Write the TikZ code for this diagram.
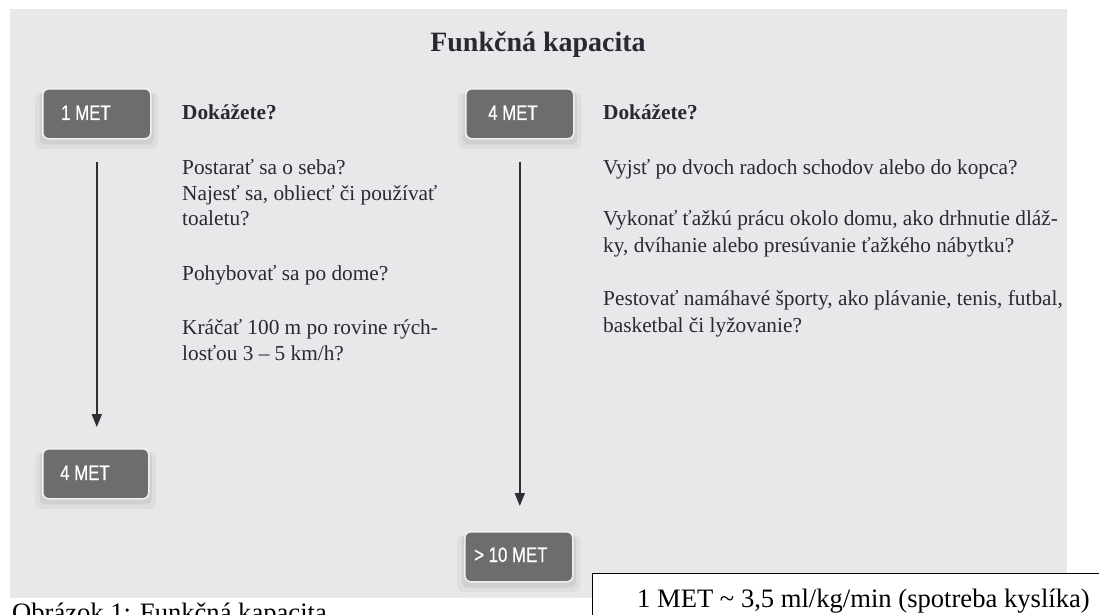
\documentclass[tikz,border=0pt]{standalone}
\usepackage{fontspec}
\setmainfont{Liberation Serif}
\newfontfamily\condsans[FakeStretch=0.8,FakeBold=0.6]{Liberation Sans}
\usetikzlibrary{arrows.meta,shadows}
\definecolor{panel}{HTML}{E8E8EA}
\definecolor{boxgray}{HTML}{6D6D6D}
\definecolor{inkdark}{HTML}{2E2E33}
\definecolor{textcol}{HTML}{2A2833}
\begin{document}
\begin{tikzpicture}[x=1pt,y=-1pt,
  metbox/.style={rounded corners=6pt, fill=boxgray, draw=white!94!black, line width=1.6pt,
    minimum width=108pt, minimum height=50pt, inner sep=0pt, anchor=north west,
    general shadow={fill=black, opacity=0.04, shadow scale=1.14, shadow yshift=-6pt},
    general shadow={fill=black, opacity=0.06, shadow scale=1.06, shadow yshift=-4pt}},
  metlabel/.style={anchor=base west, inner sep=0pt, text=white, font=\condsans\fontsize{21}{21}\selectfont},
  body/.style={anchor=base west, inner sep=0pt, text=textcol, font=\fontsize{21.3}{26}\selectfont},
  bodybold/.style={body, font=\bfseries\fontsize{21.3}{26}\selectfont},
  flow/.style={draw=inkdark, line width=1.8pt, -{Triangle[length=13pt,width=10pt]}},
  plain/.style={anchor=base west, inner sep=0pt, text=black, font=\fontsize{26.6}{30}\selectfont},
]
\useasboundingbox (0,0) rectangle (1099,615);
\fill[white] (0,0) rectangle (1099,615);
\fill[panel] (10,9) rectangle (1067,598);

% title
\node[anchor=base, inner sep=0pt, text=textcol, font=\bfseries\fontsize{28}{30}\selectfont] (title) at (538,52) {Funkčná kapacita};

% MET boxes
\node[metbox] (m1) at (42,88) {};
\node[metlabel] (m1t) at (61,120) {1 MET};
\node[metbox] (m4a) at (465,88) {};
\node[metlabel] (m4at) at (488,120) {4 MET};
\node[metbox, minimum width=106pt] (m4b) at (42,448) {};
\node[metlabel] (m4bt) at (60,480) {4 MET};
\node[metbox] (m10) at (464,531) {};
\node[metlabel] (m10t) at (474,562) {> 10 MET};

% arrows
\draw[flow, shorten <=22pt, shorten >=21pt] (m1.south) -- (m1.south |- m4b.north);
\draw[flow, shorten <=22pt, shorten >=25pt] (m4a.south) -- (m4a.south |- m10.north);

% left column text
\node[bodybold] (l0) at (182,120) {Dokážete?};
\node[body] (l1) at (182,174) {Postarať sa o seba?};
\node[body] (l2) at (182,200) {Najesť sa, obliecť či používať};
\node[body] (l3) at (182,225) {toaletu?};
\node[body] (l4) at (182,280) {Pohybovať sa po dome?};
\node[body] (l5) at (182,334) {Kráčať 100 m po rovine rých-};
\node[body] (l6) at (182,360) {losťou 3 – 5 km/h?};

% right column text
\node[bodybold] (r0) at (603,120) {Dokážete?};
\node[body] (r1) at (603,174) {Vyjsť po dvoch radoch schodov alebo do kopca?};
\node[body] (r2) at (603,225) {Vykonať ťažkú prácu okolo domu, ako drhnutie dláž-};
\node[body] (r3) at (603,252) {ky, dvíhanie alebo presúvanie ťažkého nábytku?};
\node[body] (r4) at (603,305) {Pestovať namáhavé športy, ako plávanie, tenis, futbal,};
\node[body] (r5) at (603,332) {basketbal či lyžovanie?};

% note box and caption
\node[draw=black, line width=1.3pt, fill=white, anchor=north west, minimum width=560pt, minimum height=80pt, inner sep=0pt] (note) at (592,573) {};
\node[plain] (notet) at (637,607) {1 MET \textasciitilde{} 3,5 ml/kg/min (spotreba kyslíka)};
\node[plain] (cap) at (12,621) {Obrázok 1: Funkčná kapacita};
\end{tikzpicture}
\end{document}
